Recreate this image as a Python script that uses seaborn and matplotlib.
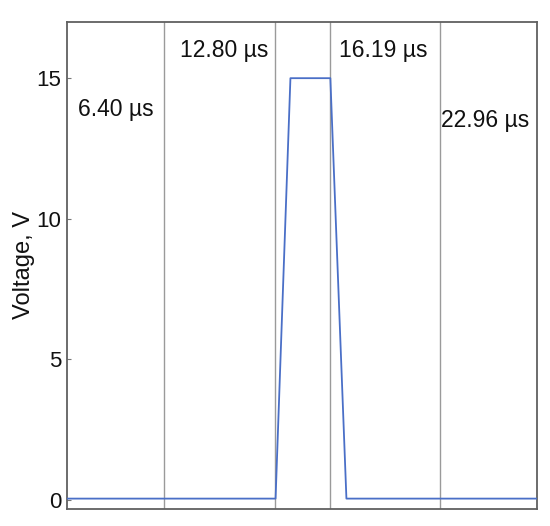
import numpy as np
import pandas as pd
import matplotlib
matplotlib.use("Agg")
import matplotlib.pyplot as plt
import seaborn as sns

sns.set_style("white")
plt.rcParams['font.family'] = ['Liberation Sans', 'DejaVu Sans']

# pulse waveform (time axis in us, arbitrary origin)
t_us = [0.0, 12.07, 12.93, 15.24, 16.17, 27.2]
volts = [0.05, 0.05, 15.0, 15.0, 0.05, 0.05]

# marker lines and their labels
marker_t = [5.63, 12.04, 15.21, 21.56]
label_txt = ["6.40 µs", "12.80 µs", "16.19 µs", "22.96 µs"]
label_x = [0.64, 6.52, 15.76, 21.62]
label_y = [13.9, 16.0, 16.0, 13.5]

df = pd.DataFrame({"t": t_us, "v": volts})

fig = plt.figure(figsize=(5.5, 5.26), dpi=100)
ax = fig.add_axes([0.1218, 0.0323, 0.8546, 0.926])

for x in marker_t:
    ax.axvline(x, color="#9a9a9a", lw=1.0, zorder=1)

sns.lineplot(data=df, x="t", y="v", ax=ax, color="#4a6fc7", lw=1.3, zorder=3)

for x, y, s in zip(label_x, label_y, label_txt):
    ax.text(x, y, s, fontsize=16.5, va="center", ha="left", color="#111111")

ax.set_xlim(0, 27.2)
ax.set_ylim(-0.32, 17.0)
ax.set_xticks([])
ax.set_yticks([0, 5, 10, 15])
ax.tick_params(axis="y", direction="in", length=3, width=0.8, color="#777777",
               labelsize=16, pad=4, left=True, labelcolor="#111111")
ax.set_xlabel("")
ax.set_ylabel("Voltage, V", fontsize=17, labelpad=1, color="#111111")
for sp in ax.spines.values():
    sp.set_color("#606060")
    sp.set_linewidth(1.3)

plt.savefig("out.png", dpi=100)
